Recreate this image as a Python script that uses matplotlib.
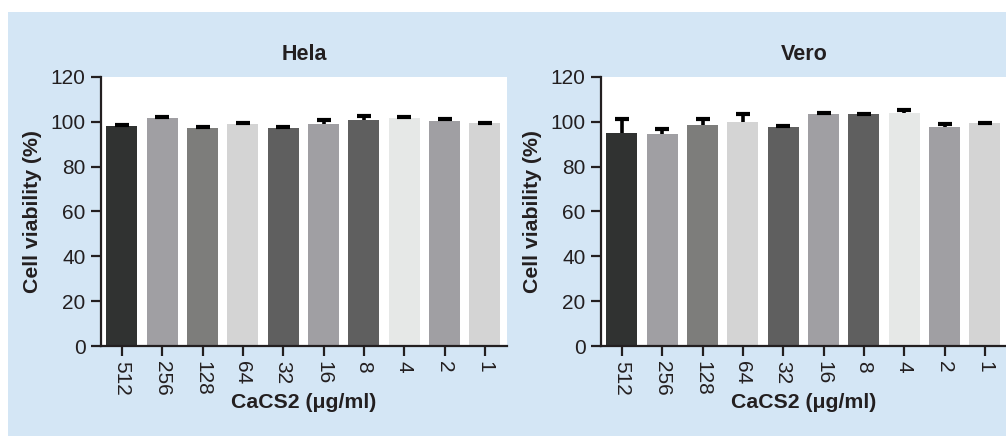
import matplotlib
matplotlib.use("Agg")
import matplotlib.pyplot as plt
from matplotlib.patches import Rectangle
import numpy as np

plt.rcParams['font.family'] = ['Liberation Sans', 'DejaVu Sans']

concentrations = ["512", "256", "128", "64", "32", "16", "8", "4", "2", "1"]
hela_values = [98.1, 101.7, 97.4, 98.9, 97.2, 99.2, 101.0, 101.6, 100.5, 99.3]
hela_errors = [0.7, 0.4, 0.3, 0.6, 0.3, 1.4, 1.6, 0.5, 0.9, 0.4]
vero_values = [95.2, 94.4, 98.7, 100.1, 97.7, 103.3, 103.3, 103.8, 97.5, 99.3]
vero_errors = [5.9, 2.2, 2.7, 3.2, 0.4, 0.6, 0.2, 1.7, 1.6, 0.2]
bar_colors = ["#303231", "#a09fa3", "#7d7d7b", "#d4d4d4", "#5f5f5f",
              "#a09fa3", "#5f5f5f", "#e6e8e7", "#a09fa3", "#d4d4d4"]
panel_titles = ["Hela", "Vero"]
x_label = "CaCS2 (μg/ml)"
y_label = "Cell viability (%)"
y_ticks = [0, 20, 40, 60, 80, 100, 120]

W, H = 1006, 436
fig = plt.figure(figsize=(W / 100, H / 100), dpi=100)
fig.patch.set_facecolor("white")
fig.patches.append(Rectangle((8 / W, 0), 1 - 8 / W, 1 - 12 / H, transform=fig.transFigure,
                             facecolor="#d4e6f5", edgecolor="none", zorder=-10))

text_color = "#231f20"
ax_w = 406 / W
ax_b = 1 - 346 / H
ax_h = 269 / H
lefts = [101 / W, 601 / W]
datasets = [(hela_values, hela_errors), (vero_values, vero_errors)]

for left, title, (vals, errs) in zip(lefts, panel_titles, datasets):
    ax = fig.add_axes([left, ax_b, ax_w, ax_h])
    ax.set_facecolor("white")
    x = np.arange(len(concentrations))
    ax.bar(x, vals, width=0.77, color=bar_colors, edgecolor="none", zorder=2)
    eb = ax.errorbar(x, vals, yerr=[np.zeros(len(errs)), errs], fmt="none",
                     ecolor="black", elinewidth=2.6, capsize=5, capthick=3, zorder=3)
    caplines = eb[1]
    if len(caplines) == 2:
        caplines[0].set_visible(False)
    ax.set_xlim(-0.52, 9.55)
    ax.set_ylim(0, 120)
    ax.set_yticks(y_ticks)
    ax.set_yticklabels([str(t) for t in y_ticks], fontsize=15, color=text_color)
    ax.set_xticks(x)
    ax.set_xticklabels(concentrations, rotation=270, fontsize=15, color=text_color)
    for s in ["top", "right"]:
        ax.spines[s].set_visible(False)
    for s in ["left", "bottom"]:
        ax.spines[s].set_linewidth(1.6)
        ax.spines[s].set_color(text_color)
    ax.tick_params(axis="both", length=7.5, width=1.6, color=text_color, pad=3.5)
    ax.text(0.5, 1 + 23 / 269, title, transform=ax.transAxes, ha="center", va="center",
            fontsize=15.5, fontweight="bold", color=text_color)
    ax.text(0.5, -56 / 269, x_label, transform=ax.transAxes, ha="center", va="center",
            fontsize=15.3, fontweight="bold", color=text_color)
    ax.text(-68 / 406, 0.5, y_label, transform=ax.transAxes, ha="center", va="center",
            rotation=90, fontsize=15.3, fontweight="bold", color=text_color)

fig.savefig("out.png", dpi=100, facecolor=fig.get_facecolor())
